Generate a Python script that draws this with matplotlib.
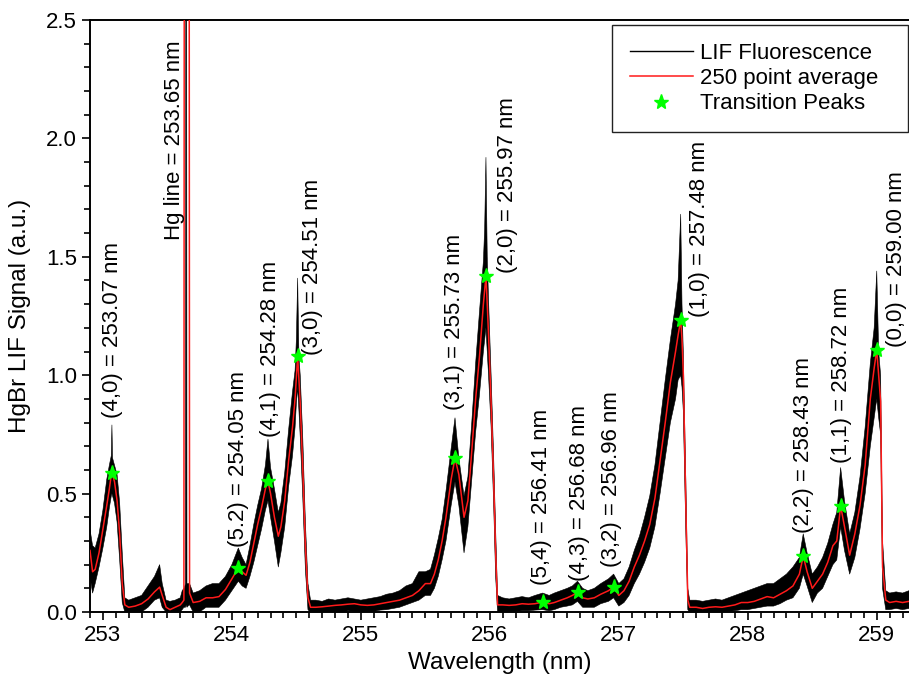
"""HgBr LIF spectrum with 250-point running average and labelled band heads."""

import matplotlib
matplotlib.use('Agg')
import matplotlib.pyplot as plt
from matplotlib.ticker import MultipleLocator, FormatStrFormatter

plt.rcParams['font.family'] = ['Liberation Sans', 'DejaVu Sans']

# wavelength grid (nm) for the measured trace, one row per spectral region
wl = [252.90, 252.92, 252.94, 252.97, 253.00, 253.03, 253.05, 253.065, 253.07, 253.075,
      253.09, 253.11, 253.13, 253.15, 253.17, 253.20,
      253.25, 253.30, 253.35, 253.40, 253.44, 253.46, 253.49, 253.52, 253.56, 253.60,
      253.615, 253.628, 253.632, 253.640, 253.646, 253.652, 253.668,
      253.672, 253.70, 253.75, 253.80, 253.85, 253.90, 253.95, 254.00, 254.05, 254.08,
      254.11, 254.14, 254.17, 254.20, 254.23, 254.26, 254.28, 254.30, 254.33, 254.36,
      254.38, 254.41, 254.44, 254.47, 254.49, 254.50, 254.51, 254.52, 254.53, 254.55,
      254.57, 254.59, 254.61,
      254.65, 254.70, 254.75, 254.80, 254.85, 254.90, 254.95, 255.00, 255.05, 255.10,
      255.15, 255.20, 255.25, 255.30, 255.35, 255.40, 255.45,
      255.50, 255.54, 255.57, 255.60, 255.63, 255.66, 255.70, 255.73, 255.76, 255.80,
      255.83, 255.86, 255.89, 255.92, 255.95, 255.96, 255.97, 255.98, 255.99, 256.01,
      256.03, 256.045, 256.06,
      256.10, 256.15, 256.20, 256.25, 256.30, 256.35, 256.41, 256.46, 256.50, 256.55,
      256.60, 256.64, 256.68, 256.72, 256.76, 256.81, 256.86, 256.92, 256.96, 257.00,
      257.04, 257.08,
      257.12, 257.16, 257.20, 257.24, 257.28, 257.32, 257.36, 257.40, 257.44, 257.46,
      257.48, 257.49, 257.50, 257.52, 257.535, 257.55,
      257.60, 257.65, 257.70, 257.75, 257.80, 257.85, 257.90, 257.95, 258.00, 258.05,
      258.10, 258.15, 258.20, 258.25, 258.30, 258.35, 258.40,
      258.43, 258.46, 258.50, 258.54, 258.58, 258.62, 258.66, 258.69, 258.72, 258.75,
      258.79, 258.83, 258.87, 258.91, 258.95, 258.98, 259.00, 259.015, 259.03, 259.045,
      259.07, 259.10, 259.15, 259.20, 259.25]

# 250 point running average (a.u.)
avg = [0.26, 0.17, 0.18, 0.25, 0.35, 0.45, 0.52, 0.58, 0.587, 0.58,
       0.55, 0.47, 0.33, 0.12, 0.03, 0.02,
       0.025, 0.035, 0.055, 0.085, 0.105, 0.07, 0.02, 0.01, 0.02, 0.03,
       0.04, 0.05, 4.0, 4.0, 4.0, 4.0, 4.0,
       0.08, 0.04, 0.045, 0.06, 0.06, 0.065, 0.095, 0.14, 0.186, 0.17,
       0.155, 0.21, 0.29, 0.37, 0.44, 0.52, 0.553, 0.50, 0.40, 0.32,
       0.36, 0.47, 0.64, 0.78, 0.90, 0.99, 1.081, 0.98, 0.88, 0.60,
       0.28, 0.06, 0.02,
       0.02, 0.022, 0.025, 0.028, 0.03, 0.033, 0.035, 0.03, 0.028, 0.03,
       0.035, 0.04, 0.045, 0.05, 0.06, 0.07, 0.09,
       0.12, 0.12, 0.16, 0.22, 0.30, 0.40, 0.56, 0.650, 0.58, 0.40,
       0.47, 0.68, 0.90, 1.08, 1.30, 1.36, 1.419, 1.30, 1.17, 0.88,
       0.55, 0.25, 0.03,
       0.03, 0.028, 0.03, 0.035, 0.033, 0.035, 0.042, 0.035, 0.04, 0.05,
       0.06, 0.07, 0.084, 0.06, 0.055, 0.06, 0.075, 0.09, 0.106, 0.07,
       0.09, 0.13,
       0.19, 0.24, 0.30, 0.37, 0.48, 0.64, 0.80, 0.97, 1.10, 1.17,
       1.233, 1.15, 1.01, 0.44, 0.05, 0.02,
       0.02, 0.015, 0.02, 0.022, 0.02, 0.025, 0.03, 0.04, 0.04, 0.045,
       0.055, 0.065, 0.06, 0.075, 0.09, 0.11, 0.16,
       0.236, 0.17, 0.10, 0.13, 0.16, 0.21, 0.28, 0.30, 0.448, 0.36,
       0.24, 0.33, 0.45, 0.62, 0.90, 1.03, 1.106, 1.00, 0.89, 0.19,
       0.05, 0.04, 0.045, 0.04, 0.045]

# upper / lower extent of the raw LIF trace (a.u.)
lif_hi = [0.35, 0.28, 0.27, 0.33, 0.43, 0.56, 0.62, 0.66, 0.79, 0.65,
          0.62, 0.58, 0.46, 0.25, 0.06, 0.05,
          0.06, 0.07, 0.11, 0.15, 0.20, 0.12, 0.05, 0.045, 0.05, 0.06,
          0.09, 0.10, 0.10, 0.12, 6.0, 0.12, 0.12,
          0.12, 0.08, 0.09, 0.11, 0.12, 0.12, 0.15, 0.20, 0.27, 0.23,
          0.20, 0.28, 0.37, 0.45, 0.52, 0.62, 0.73, 0.61, 0.52, 0.42,
          0.46, 0.59, 0.77, 0.93, 1.02, 1.15, 1.41, 1.08, 1.00, 0.73,
          0.38, 0.12, 0.05,
          0.05, 0.045, 0.055, 0.05, 0.055, 0.06, 0.055, 0.05, 0.055, 0.06,
          0.065, 0.075, 0.08, 0.09, 0.11, 0.12, 0.17,
          0.17, 0.18, 0.24, 0.31, 0.39, 0.51, 0.69, 0.82, 0.65, 0.49,
          0.57, 0.80, 1.05, 1.27, 1.48, 1.62, 1.92, 1.50, 1.32, 1.00,
          0.65, 0.35, 0.07,
          0.06, 0.055, 0.06, 0.065, 0.06, 0.07, 0.08, 0.07, 0.08, 0.09,
          0.10, 0.11, 0.13, 0.10, 0.09, 0.10, 0.12, 0.14, 0.16, 0.12,
          0.14, 0.19,
          0.26, 0.32, 0.40, 0.49, 0.62, 0.80, 0.98, 1.15, 1.30, 1.40,
          1.68, 1.30, 1.10, 0.55, 0.10, 0.05,
          0.05, 0.045, 0.05, 0.055, 0.05, 0.06, 0.07, 0.08, 0.09, 0.10,
          0.11, 0.12, 0.12, 0.14, 0.16, 0.19, 0.23,
          0.33, 0.25, 0.16, 0.19, 0.23, 0.29, 0.37, 0.42, 0.61, 0.47,
          0.33, 0.42, 0.57, 0.78, 1.05, 1.20, 1.44, 1.10, 1.00, 0.30,
          0.09, 0.08, 0.085, 0.08, 0.09]

lif_lo = [0.15, 0.08, 0.12, 0.19, 0.27, 0.36, 0.44, 0.49, 0.50, 0.49,
          0.46, 0.38, 0.22, 0.04, 0.0, -0.003,
          -0.003, 0.0, 0.02, 0.05, 0.06, 0.02, 0.0, -0.003, 0.0, 0.0,
          0.01, 0.02, 0.02, 0.02, 0.03, 0.02, 0.03,
          0.03, 0.0, 0.0, 0.02, 0.02, 0.02, 0.05, 0.09, 0.13, 0.11,
          0.10, 0.15, 0.21, 0.28, 0.35, 0.43, 0.47, 0.40, 0.30, 0.19,
          0.25, 0.36, 0.53, 0.66, 0.78, 0.88, 0.95, 0.85, 0.74, 0.48,
          0.18, 0.01, -0.003,
          -0.003, 0.0, -0.002, 0.0, 0.0, 0.005, 0.003, 0.0, 0.0, 0.002,
          0.008, 0.01, 0.015, 0.02, 0.03, 0.04, 0.05,
          0.07, 0.07, 0.10, 0.15, 0.22, 0.30, 0.45, 0.55, 0.45, 0.25,
          0.36, 0.56, 0.76, 0.92, 1.10, 1.15, 1.20, 1.10, 1.00, 0.78,
          0.45, 0.15, 0.0,
          0.0, 0.0, 0.003, 0.005, 0.005, 0.008, 0.01, 0.005, 0.01, 0.02,
          0.025, 0.03, 0.045, 0.02, 0.02, 0.02, 0.035, 0.045, 0.06, 0.025,
          0.04, 0.07,
          0.12, 0.16, 0.21, 0.27, 0.36, 0.50, 0.65, 0.80, 0.90, 0.98,
          1.00, 0.95, 0.85, 0.33, 0.01, -0.003,
          -0.003, -0.003, 0.0, 0.0, 0.0, 0.003, 0.005, 0.01, 0.01, 0.015,
          0.02, 0.025, 0.025, 0.035, 0.05, 0.06, 0.10,
          0.16, 0.11, 0.04, 0.08, 0.10, 0.15, 0.20, 0.22, 0.36, 0.26,
          0.16, 0.23, 0.35, 0.50, 0.70, 0.82, 0.90, 0.82, 0.75, 0.10,
          0.01, 0.01, 0.015, 0.01, 0.015]

# band heads (v', v'') and their peak positions
peak_names = ['(4,0)', '(5.2)', '(4,1)', '(3,0)', '(3,1)', '(2,0)', '(5,4)',
              '(4,3)', '(3,2)', '(1,0)', '(2,2)', '(1,1)', '(0,0)']
peak_wl = [253.07, 254.05, 254.28, 254.51, 255.73, 255.97, 256.41,
           256.68, 256.96, 257.48, 258.43, 258.72, 259.00]
peak_sig = [0.587, 0.186, 0.553, 1.081, 0.650, 1.419, 0.042,
            0.084, 0.106, 1.233, 0.236, 0.448, 1.106]

HG_LINE = 253.65

# label offsets from each star, in pixels
label_dx = [1, 0, 3, 15, -1, 22, -1, 2, -2, 19, 0, 1, 20]
label_dy = [55, 21, 44, 1, 48, 3, 17, 11, 20, 3, 23, 43, 3]

fig = plt.figure(figsize=(9.09, 6.85), dpi=100)
ax = fig.add_axes([90 / 909, 73 / 685, 819 / 909, 592 / 685])

ax.fill_between(wl, lif_lo, lif_hi, color='black', lw=0.4, zorder=2)
ax.plot([], [], color='black', lw=1.0, label='LIF Fluorescence')
ax.plot(wl, avg, color='#ff1a1a', lw=1.1, label='250 point average', zorder=3)
ax.plot(peak_wl, peak_sig, ls='none', marker='*', ms=11, color='#00ff00',
        mec='#00ff00', label='Transition Peaks', zorder=4)

for name, x, y, dx, dy in zip(peak_names, peak_wl, peak_sig, label_dx, label_dy):
    ax.annotate(f'{name} = {x:.2f} nm', (x, y), xytext=(dx, dy),
                textcoords='offset pixels', rotation=90, ha='center',
                va='bottom', fontsize=16)
ax.annotate(f'Hg line = {HG_LINE:.2f} nm', (HG_LINE, 1.57), xytext=(-12, 0),
            textcoords='offset pixels', rotation=90, ha='center',
            va='bottom', fontsize=16)

ax.set_xlim(252.9, 259.25)
ax.set_ylim(0, 2.5)
ax.xaxis.set_major_locator(MultipleLocator(1))
ax.xaxis.set_minor_locator(MultipleLocator(0.1))
ax.yaxis.set_major_locator(MultipleLocator(0.5))
ax.yaxis.set_minor_locator(MultipleLocator(0.1))
ax.yaxis.set_major_formatter(FormatStrFormatter('%.1f'))
ax.tick_params(which='major', direction='out', length=6, width=1.2,
               labelsize=16, top=False, right=False)
ax.tick_params(which='minor', direction='out', length=4, width=1.2,
               top=False, right=False)
for side in ['left', 'bottom', 'top']:
    ax.spines[side].set_linewidth(1.4)
ax.spines['right'].set_visible(False)

ax.set_xlabel('Wavelength (nm)', fontsize=17.5)
ax.set_ylabel('HgBr LIF Signal (a.u.)', fontsize=17.5, labelpad=11)

# legend box stretched over the upper-right corner
leg = ax.legend(loc='upper left', bbox_to_anchor=(0.6374, 0.5, 0.3614, 0.492),
                mode='expand', fontsize=16, frameon=True, fancybox=False,
                framealpha=1, edgecolor='#222222', handlelength=2.85,
                handletextpad=0.3, labelspacing=0.2, borderpad=0.8,
                borderaxespad=0)
leg.get_frame().set_linewidth(1.0)

fig.savefig('out.png', dpi=100)
